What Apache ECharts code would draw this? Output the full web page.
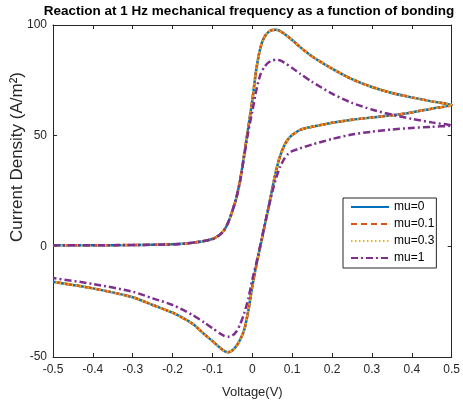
<!DOCTYPE html>
<html>
<head>
<meta charset="utf-8">
<script src="https://cdn.jsdelivr.net/npm/echarts@6/dist/echarts.min.js"></script>
<style>
  html, body { margin: 0; padding: 0; background: #fff; }
  #chart { width: 463px; height: 404px; }
</style>
</head>
<body>
<div id="chart"></div>
<script>
// Cyclic sweep: forward from -0.5 V to 0.5 V, then back to -0.5 V
const sweepVoltage = [
  -0.5, -0.4, -0.3, -0.2, -0.15, -0.1, -0.08, -0.07, -0.06, -0.05,
  -0.04, -0.03, -0.02, -0.01, 0, 0.01, 0.02, 0.03, 0.04, 0.05,
  0.06, 0.07, 0.08, 0.1, 0.12, 0.15, 0.2, 0.25, 0.3, 0.35,
  0.4, 0.45, 0.5,
  0.45, 0.4, 0.35, 0.3, 0.25, 0.2, 0.15, 0.12, 0.1, 0.09,
  0.08, 0.07, 0.06, 0.05, 0.04, 0.03, 0.02, 0.01, 0, -0.01,
  -0.02, -0.03, -0.04, -0.05, -0.06, -0.07, -0.08, -0.1, -0.12, -0.15,
  -0.2, -0.25, -0.3, -0.4, -0.5
];

// Current density (A/m^2) for each bonding parameter mu
const currentMu0 = [
  0.5, 0.5, 0.6, 0.9, 1.6, 3.3, 5.5, 7.5, 11, 16,
  22, 30.5, 42, 54, 66, 80, 89.5, 94.5, 96.8, 97.7,
  97.8, 97.2, 96, 93.2, 90, 85.8, 80.3, 75.5, 72, 69.3,
  67.3, 65.5, 63.8,
  62.2, 60.5, 59.2, 58.2, 57.2, 55.8, 54, 52.6, 50.3, 48.5,
  45.5, 41, 34.5, 26, 17, 8.5, 0, -8.5, -18, -29,
  -37.5, -42, -45, -47, -47.8, -47.3, -46, -42.8, -39.8, -35,
  -30, -26.5, -23, -19, -16
];
const currentMu01 = [
  0.5, 0.5, 0.6, 0.9, 1.6, 3.3, 5.5, 7.5, 11, 16,
  22, 30.5, 42, 54, 66, 80, 89.5, 94.5, 96.8, 97.7,
  97.8, 97.2, 96, 93.2, 90, 85.8, 80.3, 75.5, 72, 69.3,
  67.3, 65.5, 63.8,
  62.2, 60.5, 59.2, 58.2, 57.2, 55.8, 54, 52.6, 50.3, 48.5,
  45.5, 41, 34.5, 26, 17, 8.5, 0, -8.5, -18, -29,
  -37.5, -42, -45, -47, -47.8, -47.3, -46, -42.8, -39.8, -35,
  -30, -26.5, -23, -19, -16
];
const currentMu03 = [
  0.5, 0.5, 0.6, 0.9, 1.6, 3.3, 5.5, 7.5, 11, 16,
  22, 30.5, 42, 54, 66, 80, 89.5, 94.5, 96.8, 97.7,
  97.8, 97.2, 96, 93.2, 90, 85.8, 80.3, 75.5, 72, 69.3,
  67.3, 65.5, 63.8,
  62.2, 60.5, 59.2, 58.2, 57.2, 55.8, 54, 52.6, 50.3, 48.5,
  45.5, 41, 34.5, 26, 17, 8.5, 0, -8.5, -18, -29,
  -37.5, -42, -45, -47, -47.8, -47.3, -46, -42.8, -39.8, -35,
  -30, -26.5, -23, -19, -16
];
const currentMu1 = [
  0.5, 0.5, 0.6, 0.9, 1.6, 3.3, 5.5, 7.5, 11, 16,
  22, 30, 41, 52, 61, 70.5, 77.5, 81, 83, 84,
  84.3, 84, 83, 80.6, 78, 74.3, 69, 64.8, 61.8, 59.5,
  57.6, 56, 54.6,
  54, 53.5, 52.8, 51.8, 50.5, 48.5, 46, 44.3, 43, 41.8,
  39.5, 36, 31, 24.5, 17, 9, 0.5, -7.5, -15, -23.5,
  -30, -35, -38.5, -40.3, -40.8, -40.5, -39.5, -37, -34.5, -31,
  -26.5, -23.5, -20.5, -17, -14.3
];

const seriesNames = ['mu=0', 'mu=0.1', 'mu=0.3', 'mu=1'];
const seriesCurrents = [currentMu0, currentMu01, currentMu03, currentMu1];
const seriesColors = ['#0072BD', '#D95319', '#EDB120', '#7E2F8E'];
const seriesDash = ['solid', [6, 4], [1.5, 2.5], [7, 3, 2, 3]];

const xTicks = { min: -0.5, max: 0.5, step: 0.1 };
const yTicks = { min: -50, max: 100, step: 50 };

const FONT = 'Liberation Sans, Arial, Helvetica, sans-serif';
const AX = '#262626';

function pairs(ys) {
  return sweepVoltage.map((v, i) => [v, ys[i]]);
}

// Mirrored axes on top and right close the box, ticks only
function boxAxis(pos, isX) {
  const lim = isX ? xTicks : yTicks;
  return {
    type: 'value',
    position: pos,
    min: lim.min, max: lim.max, interval: lim.step,
    axisLine: { show: true, onZero: false, lineStyle: { color: AX, width: 1 } },
    axisTick: { show: true, inside: true, length: 4, lineStyle: { color: AX } },
    axisLabel: { show: false },
    splitLine: { show: false }
  };
}

const chart = echarts.init(document.getElementById('chart'), null, { renderer: 'canvas' });

chart.setOption({
  animation: false,
  backgroundColor: '#ffffff',
  title: {
    text: 'Reaction at 1 Hz mechanical frequency as a function of bonding',
    left: 249,
    top: 4,
    padding: 0,
    textAlign: 'center',
    textStyle: { fontFamily: FONT, fontSize: 13.5, fontWeight: 'bold', color: '#000' }
  },
  // y-axis label, rotated, sitting in the upper part of the left margin
  graphic: [{
    type: 'text',
    x: 17,
    y: 157,
    rotation: Math.PI / 2,
    style: {
      text: 'Current Density (A/m²)',
      fontFamily: FONT,
      fontSize: 17,
      fill: AX,
      align: 'center',
      verticalAlign: 'middle'
    }
  }],
  grid: { left: 53, right: 10, top: 25, bottom: 47, containLabel: false },
  legend: {
    orient: 'vertical',
    left: 343,
    top: 198,
    padding: [3, 2, 4, 7],
    itemGap: 5,
    itemWidth: 38,
    itemHeight: 12,
    itemStyle: { opacity: 0 },
    backgroundColor: '#fff',
    borderColor: AX,
    borderWidth: 1,
    borderRadius: 0,
    textStyle: { fontFamily: FONT, fontSize: 12, color: '#000' },
    data: seriesNames
  },
  xAxis: [
    {
      type: 'value',
      position: 'bottom',
      min: xTicks.min, max: xTicks.max, interval: xTicks.step,
      name: 'Voltage(V)',
      nameLocation: 'middle',
      nameGap: 29,
      nameTextStyle: { fontFamily: FONT, fontSize: 13, color: AX },
      axisLine: { show: true, onZero: false, lineStyle: { color: AX, width: 1 } },
      axisTick: { show: true, inside: true, length: 4, lineStyle: { color: AX } },
      axisLabel: {
        fontFamily: FONT, fontSize: 12, color: AX, margin: 7,
        formatter: v => { const r = Math.round(v * 10) / 10; return r === 0 ? '0' : String(r); }
      },
      splitLine: { show: false }
    },
    boxAxis('top', true)
  ],
  yAxis: [
    {
      type: 'value',
      position: 'left',
      min: yTicks.min, max: yTicks.max, interval: yTicks.step,
      axisLine: { show: true, onZero: false, lineStyle: { color: AX, width: 1 } },
      axisTick: { show: true, inside: true, length: 4, lineStyle: { color: AX } },
      axisLabel: { fontFamily: FONT, fontSize: 12, color: AX, margin: 6 },
      splitLine: { show: false }
    },
    boxAxis('right', false)
  ],
  series: seriesNames.map((name, i) => ({
    name: name,
    type: 'line',
    xAxisIndex: 0,
    yAxisIndex: 0,
    data: pairs(seriesCurrents[i]),
    showSymbol: false,
    symbol: 'none',
    smooth: 0.25,
    color: seriesColors[i],
    lineStyle: { color: seriesColors[i], width: 2.5, type: seriesDash[i] },
    z: 2 + i
  }))
});
</script>
</body>
</html>
